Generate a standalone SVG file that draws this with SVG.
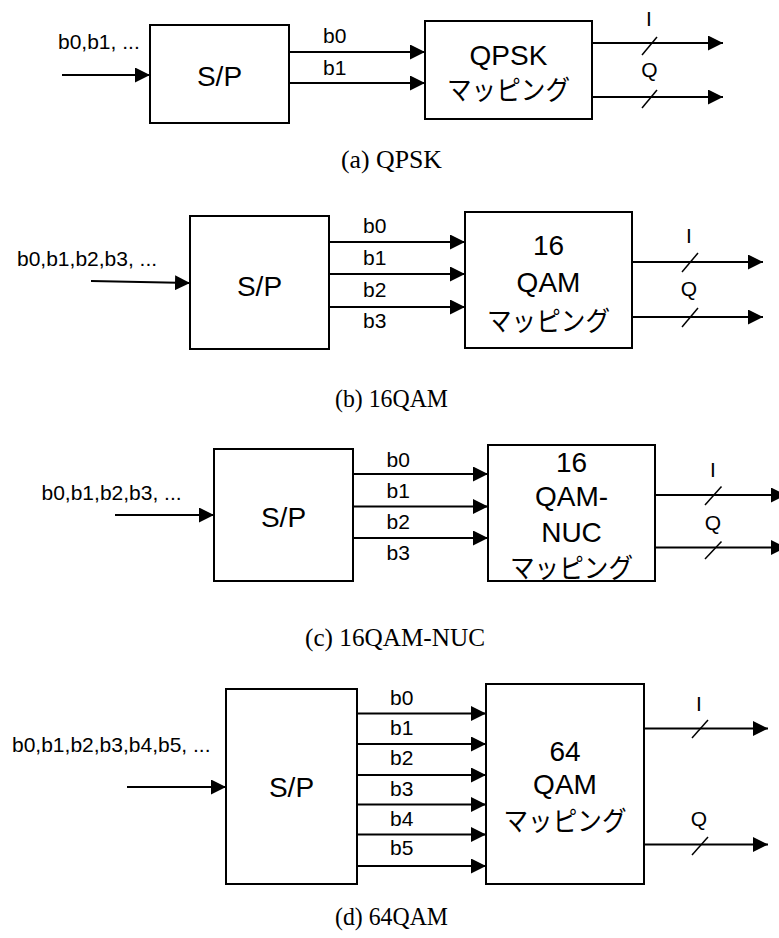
<svg xmlns="http://www.w3.org/2000/svg" width="779" height="938" viewBox="0 0 779 938">
<style>
.box{fill:#fff;stroke:#000;stroke-width:2}
.ar{fill:none;stroke:#000;stroke-width:2;marker-end:url(#ah)}
.sl{fill:none;stroke:#000;stroke-width:1.5}
.lb{font-family:"Liberation Sans",Arial,"Noto Sans CJK JP",sans-serif;font-size:21px;fill:#000}
.big{font-family:"Liberation Sans",Arial,"Noto Sans CJK JP",sans-serif;font-size:28px;fill:#000;text-anchor:middle}
.jp{font-family:"Noto Sans CJK JP",sans-serif;font-size:27px;fill:#000;text-anchor:middle}
.mid{text-anchor:middle}
.cap{font-family:"Liberation Serif","Noto Sans CJK JP",serif;font-size:25px;fill:#000}
</style>
<defs>
<marker id="ah" viewBox="0 0 15 15" refX="15" refY="7.5" markerWidth="15" markerHeight="15" markerUnits="userSpaceOnUse" orient="auto">
<path d="M0,0 L15,7.5 L0,15 z" fill="#000"/>
</marker>
</defs>

<!-- (a) QPSK -->
<g id="a-sp"><rect class="box" x="150" y="25" width="139" height="98"/><text class="big" x="219.5" y="86">S/P</text></g>
<g id="a-map"><rect class="box" x="425" y="21" width="167" height="98"/><text class="big" x="508.5" y="65">QPSK</text><text class="jp" x="508.5" y="100" textLength="123" lengthAdjust="spacingAndGlyphs">マッピング</text></g>
<g id="a-conn">
<path class="ar" d="M62,75 H150"/>
<path class="ar" d="M289,52 H425"/>
<path class="ar" d="M289,83 H425"/>
<path class="ar" d="M592,43 H723"/>
<path class="ar" d="M592,97 H723"/>
<path class="sl" d="M642,55 L657,37"/>
<path class="sl" d="M642,108 L657,90"/>
</g>
<g id="a-labels">
<text class="lb" x="58" y="49">b0,b1, ...</text>
<text class="lb" x="323" y="43">b0</text>
<text class="lb" x="323" y="75">b1</text>
<text class="lb mid" x="649" y="26">I</text>
<text class="lb mid" x="649.5" y="77">Q</text>
<text class="cap" x="341" y="168" textLength="101" lengthAdjust="spacingAndGlyphs">(a) QPSK</text>
</g>

<!-- (b) 16QAM -->
<g id="b-sp"><rect class="box" x="190" y="216" width="139" height="133"/><text class="big" x="259.5" y="296">S/P</text></g>
<g id="b-map"><rect class="box" x="465" y="212" width="167" height="136"/><text class="big" x="548.5" y="255">16</text><text class="big" x="548.5" y="291.5">QAM</text><text class="jp" x="548.5" y="331" textLength="123" lengthAdjust="spacingAndGlyphs">マッピング</text></g>
<g id="b-conn">
<path class="ar" d="M91,281 L190,283"/>
<path class="ar" d="M329,242 H465"/>
<path class="ar" d="M329,274 H465"/>
<path class="ar" d="M329,307 H465"/>
<path class="ar" d="M632,262 H763"/>
<path class="ar" d="M632,317 H763"/>
<path class="sl" d="M682,272 L698,253"/>
<path class="sl" d="M682,327 L698,308"/>
</g>
<g id="b-labels">
<text class="lb" x="17" y="266">b0,b1,b2,b3, ...</text>
<text class="lb" x="363" y="233">b0</text>
<text class="lb" x="363" y="265">b1</text>
<text class="lb" x="363" y="297">b2</text>
<text class="lb" x="363" y="328">b3</text>
<text class="lb mid" x="689" y="243">I</text>
<text class="lb mid" x="689" y="296">Q</text>
<text class="cap" x="335" y="406.5" textLength="113" lengthAdjust="spacingAndGlyphs">(b) 16QAM</text>
</g>

<!-- (c) 16QAM-NUC -->
<g id="c-sp"><rect class="box" x="214" y="449" width="139" height="132"/><text class="big" x="283.5" y="526.5">S/P</text></g>
<g id="c-map"><rect class="box" x="488" y="445" width="167" height="136"/><text class="big" x="571.5" y="471.5">16</text><text class="big" x="571.5" y="506">QAM-</text><text class="big" x="571.5" y="541.5">NUC</text><text class="jp" x="571.5" y="577.5" textLength="123" lengthAdjust="spacingAndGlyphs">マッピング</text></g>
<g id="c-conn">
<path class="ar" d="M115,515 H214"/>
<path class="ar" d="M353,474 H488"/>
<path class="ar" d="M353,506.5 H488"/>
<path class="ar" d="M353,538 H488"/>
<path class="ar" d="M655,495 H786"/>
<path class="ar" d="M655,547.5 H786"/>
<path class="sl" d="M705,505 L721.5,486.5"/>
<path class="sl" d="M705,559 L721.5,541.5"/>
</g>
<g id="c-labels">
<text class="lb" x="41.5" y="500">b0,b1,b2,b3, ...</text>
<text class="lb" x="386.5" y="466.5">b0</text>
<text class="lb" x="386.5" y="498">b1</text>
<text class="lb" x="386.5" y="529">b2</text>
<text class="lb" x="386.5" y="560">b3</text>
<text class="lb mid" x="713" y="476.5">I</text>
<text class="lb mid" x="713" y="530">Q</text>
<text class="cap" x="305" y="646" textLength="180" lengthAdjust="spacingAndGlyphs">(c) 16QAM-NUC</text>
</g>

<!-- (d) 64QAM -->
<g id="d-sp"><rect class="box" x="226" y="689" width="131" height="195"/><text class="big" x="291.5" y="796.5">S/P</text></g>
<g id="d-map"><rect class="box" x="486" y="684" width="158" height="200"/><text class="big" x="565" y="760.5">64</text><text class="big" x="565" y="794">QAM</text><text class="jp" x="565" y="831" textLength="123" lengthAdjust="spacingAndGlyphs">マッピング</text></g>
<g id="d-conn">
<path class="ar" d="M127,787 H226"/>
<path class="ar" d="M357,713.5 H486"/>
<path class="ar" d="M357,744 H486"/>
<path class="ar" d="M357,775 H486"/>
<path class="ar" d="M357,804.5 H486"/>
<path class="ar" d="M357,834.5 H486"/>
<path class="ar" d="M357,866 H486"/>
<path class="ar" d="M644,728.5 H768"/>
<path class="ar" d="M644,844.5 H768"/>
<path class="sl" d="M692,738 L708,720"/>
<path class="sl" d="M692,855 L708,837"/>
</g>
<g id="d-labels">
<text class="lb" x="12" y="752">b0,b1,b2,b3,b4,b5, ...</text>
<text class="lb" x="390" y="705">b0</text>
<text class="lb" x="390" y="735">b1</text>
<text class="lb" x="390" y="765">b2</text>
<text class="lb" x="390" y="795.5">b3</text>
<text class="lb" x="390" y="826">b4</text>
<text class="lb" x="390" y="855">b5</text>
<text class="lb mid" x="699" y="711">I</text>
<text class="lb mid" x="699" y="826">Q</text>
<text class="cap" x="335" y="925" textLength="113" lengthAdjust="spacingAndGlyphs">(d) 64QAM</text>
</g>
</svg>
